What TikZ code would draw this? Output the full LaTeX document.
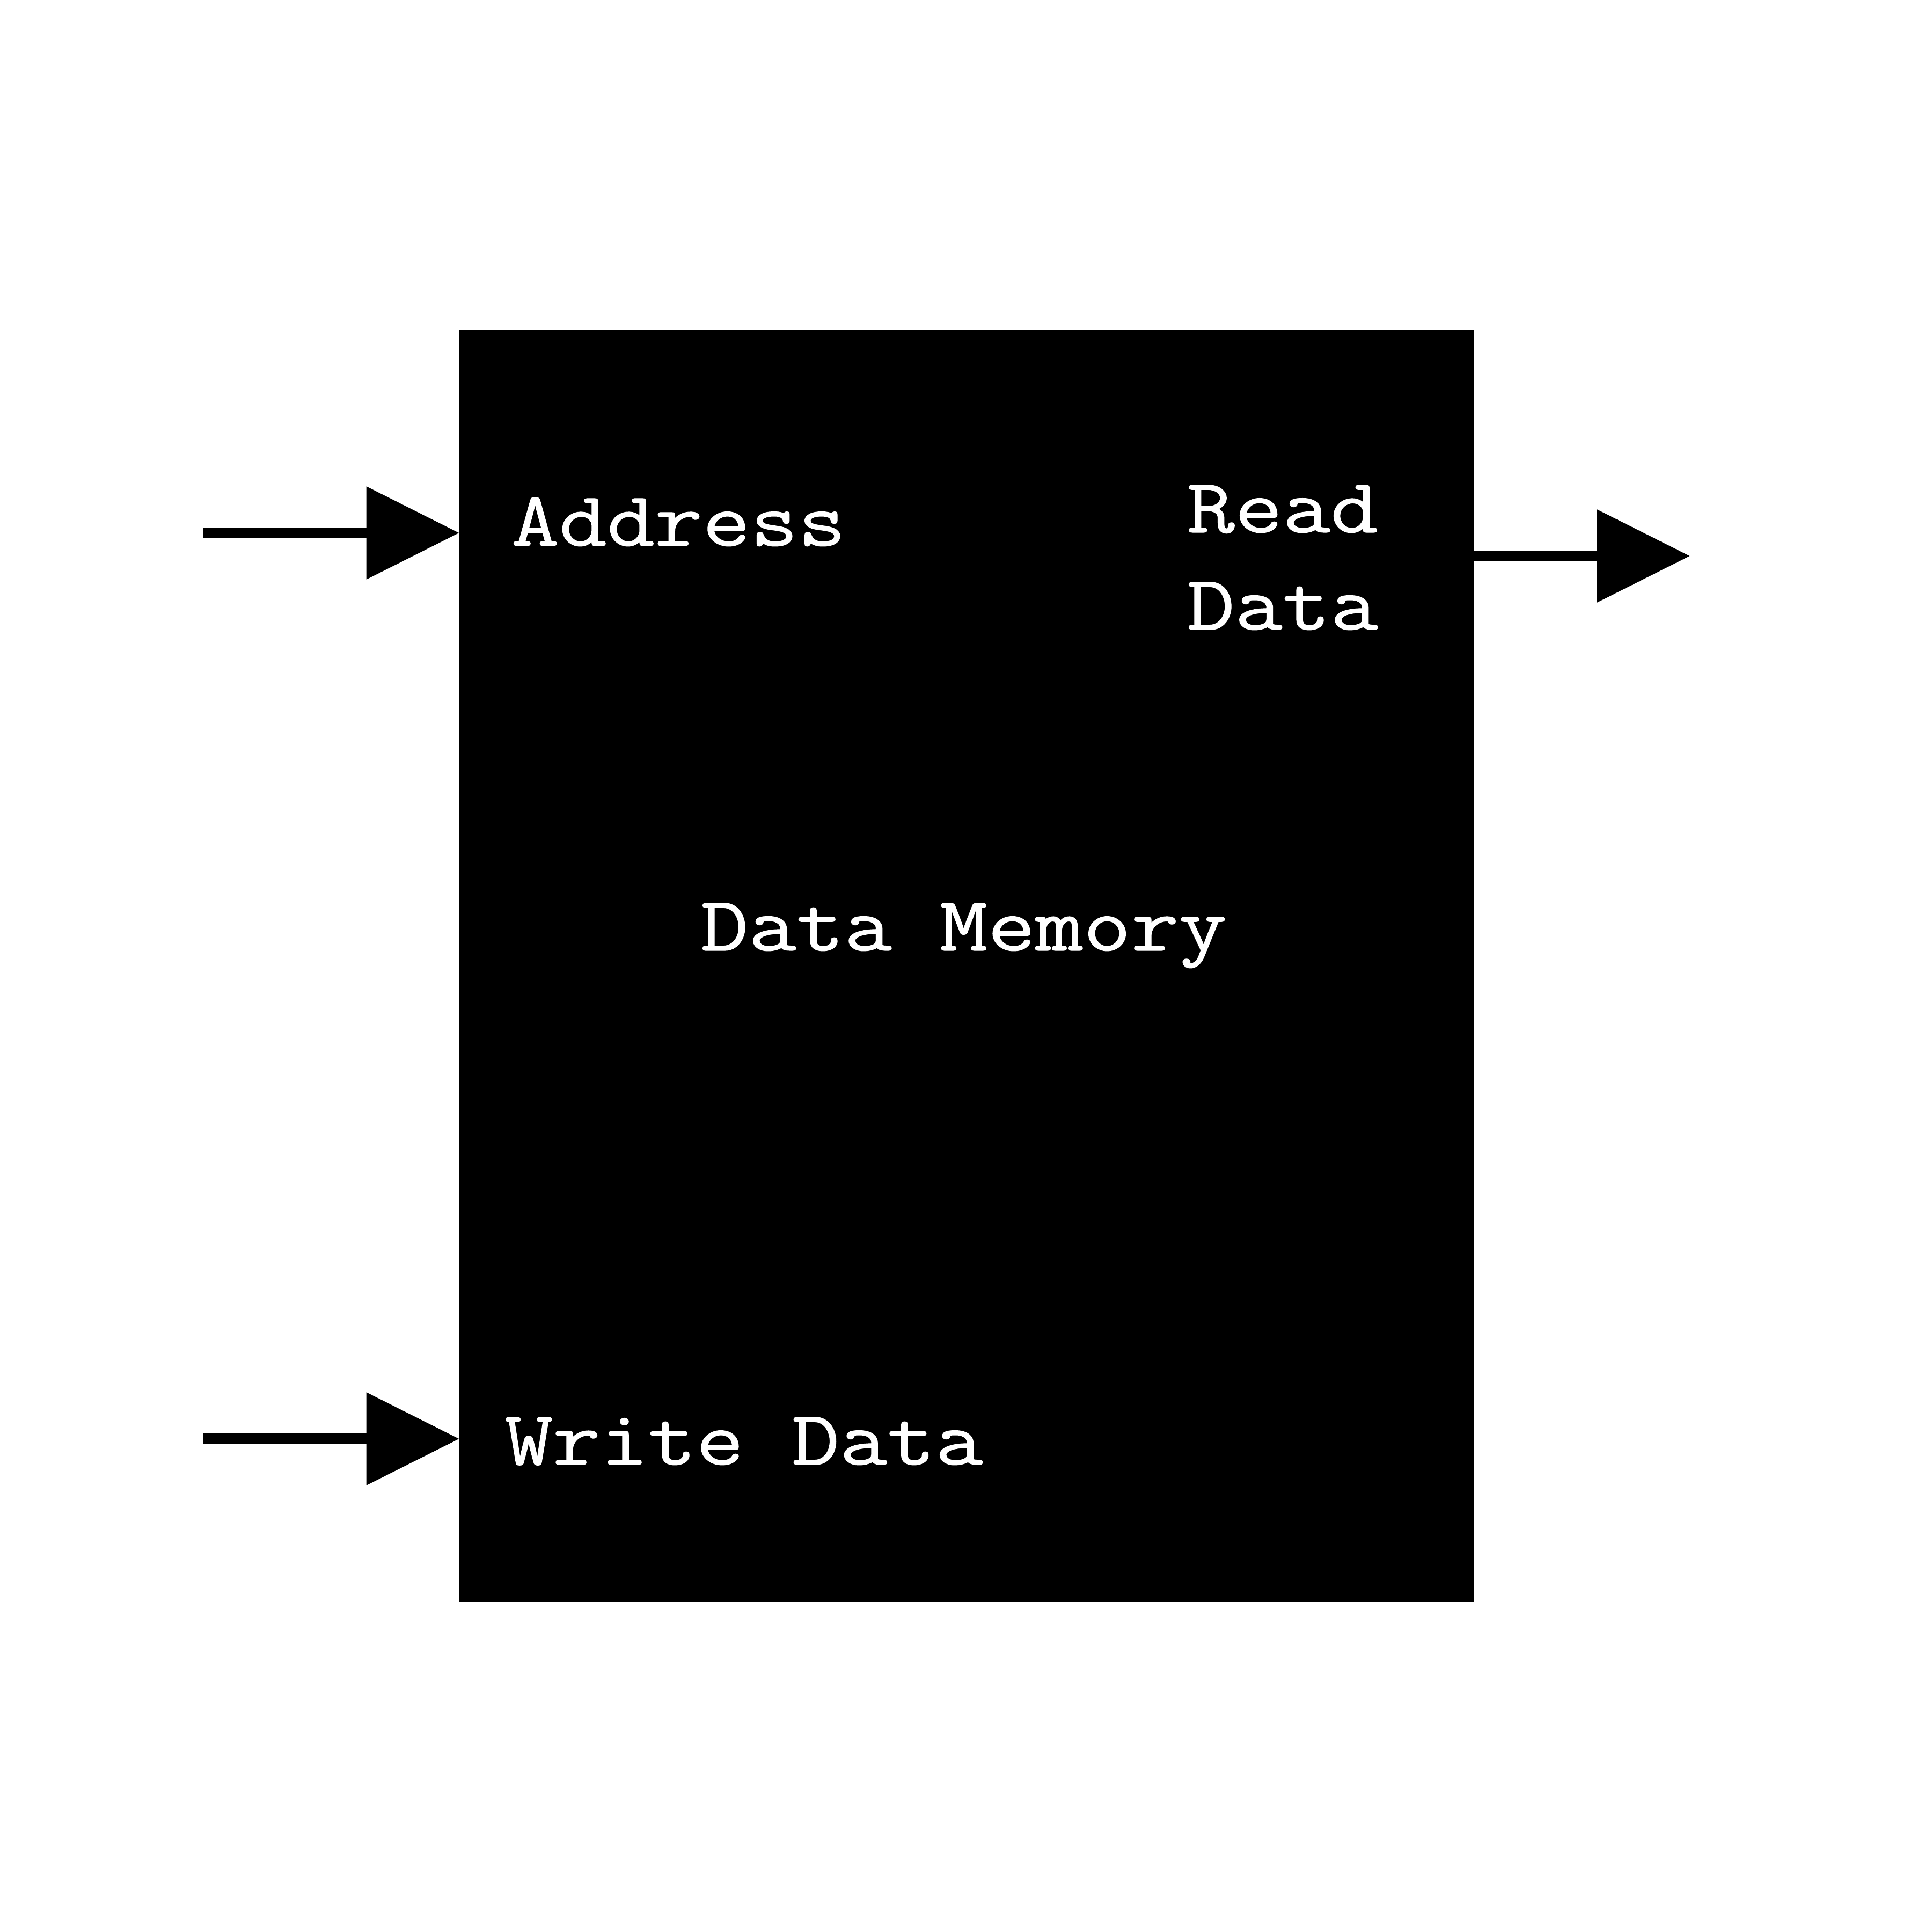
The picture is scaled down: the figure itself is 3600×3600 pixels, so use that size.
\documentclass[tikz,border=0pt]{standalone}
\usepackage{fontspec}
\newfontfamily\memfont{Latin Modern Mono}[FakeStretch=1.2,FakeBold=0.8]
\usetikzlibrary{arrows.meta}
\begin{document}
\begin{tikzpicture}[x=0.01cm,y=-0.01cm,
  lbl/.style={text=white,font=\memfont\fontsize{41}{49}\selectfont,inner sep=0pt,anchor=base west},
  sig/.style={line width=0.2cm,-{Triangle[length=1.73cm,width=1.68cm]}}]
\useasboundingbox[fill=white] (0,0) rectangle (3600,3600);
\node[fill=black,draw=none,minimum width=18.88cm,minimum height=23.695cm,inner sep=0pt] (mem) at (1801,1800.75) {};
\coordinate (ain) at (378,993);
\coordinate (win) at (378,2681);
\coordinate (rout) at (3149,1036);
\draw[sig] (ain) -- (mem.west |- ain);
\draw[sig] (win) -- (mem.west |- win);
\draw[sig] (mem.east |- rout) -- (rout);
\node[lbl] (addr) at (952,1017) {Address};
\node[lbl] (rd1) at (2211,992) {Read};
\node[lbl] (rd2) at (2211,1173) {Data};
\node[lbl] (dm) at (1305,1771) {Data Memory};
\node[lbl] (wd) at (940,2729) {Write Data};
\end{tikzpicture}
\end{document}
